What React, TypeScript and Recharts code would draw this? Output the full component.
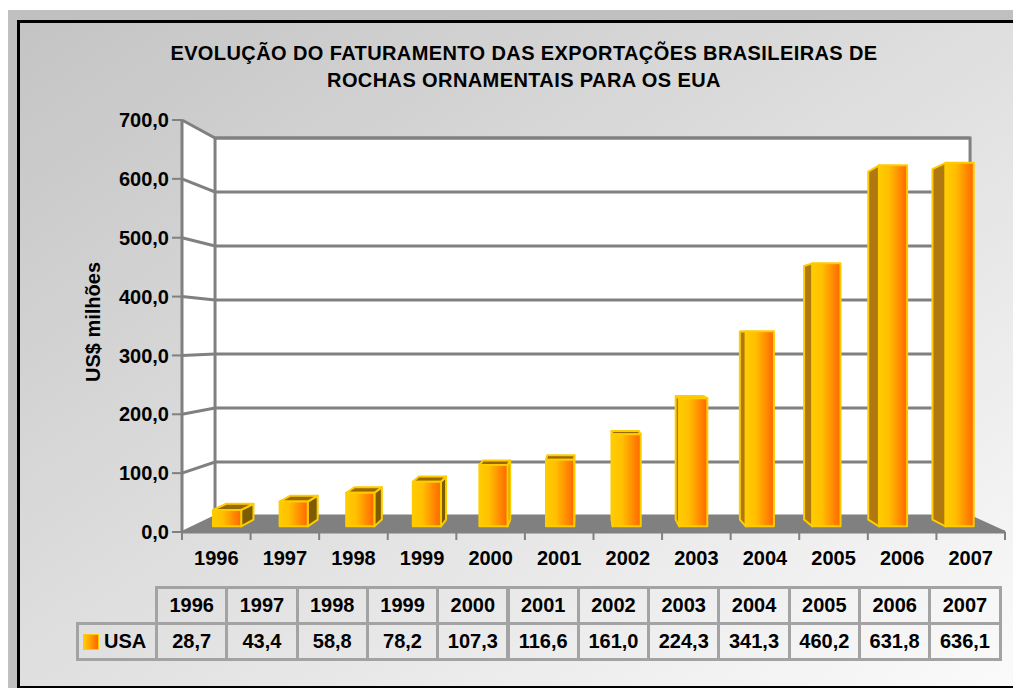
import React from 'react';
import { BarChart, Bar, XAxis, YAxis } from 'recharts';

const YEARS = ['1996', '1997', '1998', '1999', '2000', '2001', '2002', '2003', '2004', '2005', '2006', '2007'];
const USA = [28.7, 43.4, 58.8, 78.2, 107.3, 116.6, 161.0, 224.3, 341.3, 460.2, 631.8, 636.1];
const Y_TICKS = [0, 100, 200, 300, 400, 500, 600, 700];
const TITLE = ['EVOLUÇÃO DO FATURAMENTO DAS EXPORTAÇÕES BRASILEIRAS DE', 'ROCHAS ORNAMENTAIS PARA OS EUA'];
const Y_LABEL = 'US$ milhões';
const SERIES = 'USA';

const data = YEARS.map((year, i) => ({ year, usa: USA[i] }));

// geometry inside the grey frame (frame sits at page 8,10)
const W = 1013;
const H = 680;
const PL = 174;
const PT = 110;
const PW = 823;
const PH = 412;
const PR = PL + PW;
const PB = PT + PH;
// fake perspective: vanishing point + depth factors
const VX = PL + 0.486 * PW;
const VY = PT + 0.529 * PH;
const T_WALL = 0.0826;
const T_FRONT = 0.029;
const T_BACK = 0.064;
const FONT = '"Liberation Sans", Arial, Helvetica, sans-serif';
const GRID = '#808080';

const proj = (x: number, y: number, t: number) => [x + t * (VX - x), y + t * (VY - y)];
const pts = (arr: number[][]) => arr.map((p) => p.join(',')).join(' ');
const fmt = (v: number) => v.toFixed(1).replace('.', ',');
const yFront = (v: number) => PB - (v / Y_TICKS[Y_TICKS.length - 1]) * PH;

const Bar3D = (props: any) => {
    const { x, y, width, height } = props;
    if (height == null || width == null) return null;
    const xl = x, xr = x + width, yt = y, yb = y + height;
    const f = (px: number, py: number) => proj(px, py, T_FRONT);
    const b = (px: number, py: number) => proj(px, py, T_BACK);
    const cx = x + width / 2;
    const rightSide = cx < VX;
    const front = [f(xl, yt), f(xr, yt), f(xr, yb), f(xl, yb)];
    const side = rightSide
        ? [f(xr, yt), b(xr, yt), b(xr, yb), f(xr, yb)]
        : [f(xl, yt), b(xl, yt), b(xl, yb), f(xl, yb)];
    const top = [f(xl, yt), f(xr, yt), b(xr, yt), b(xl, yt)];
    return (
        <g>
            <polygon points={pts(side)} fill={rightSide ? '#7d5c00' : '#b07810'} stroke="#ffcc00" strokeWidth={2} strokeLinejoin="round" />
            {yt > VY && <polygon points={pts(top)} fill="#9a6800" stroke="#ffcc00" strokeWidth={2} strokeLinejoin="round" />}
            <polygon points={pts(front)} fill="url(#barFront)" stroke="#ffcc00" strokeWidth={2} strokeLinejoin="round" />
        </g>
    );
};

const XTick = (props: any) => {
    const { x, payload, index } = props;
    const band = PW / YEARS.length;
    return (
        <g>
            <line x1={x - band / 2} x2={x - band / 2} y1={PB} y2={PB + 8} stroke={GRID} strokeWidth={2} />
            {index === YEARS.length - 1 && (
                <line x1={x + band / 2} x2={x + band / 2} y1={PB} y2={PB + 8} stroke={GRID} strokeWidth={2} />
            )}
            <text x={x} y={PB + 33} textAnchor="middle" fontFamily={FONT} fontWeight="bold" fontSize={20} fill="#000">
                {payload.value}
            </text>
        </g>
    );
};

const Walls = () => {
    const tl = proj(PL, PT, T_WALL);
    const tr = proj(PR, PT, T_WALL);
    const br = proj(PR, PB, T_WALL);
    const bl = proj(PL, PB, T_WALL);
    return (
        <svg width={W} height={H} style={{ position: 'absolute', left: 0, top: 0 }}>
            <defs>
                <linearGradient id="barFront" x1="0" y1="0" x2="1" y2="0">
                    <stop offset="0%" stopColor="#ffcc00" />
                    <stop offset="35%" stopColor="#ffbf00" />
                    <stop offset="100%" stopColor="#ff6600" />
                </linearGradient>
            </defs>
            {TITLE.map((line, i) => (
                <text key={i} x={516} y={50 + i * 27} textAnchor="middle" fontFamily={FONT} fontWeight="bold" fontSize={20} letterSpacing={0.4} fill="#000">
                    {line}
                </text>
            ))}
            <text x={85} y={312} transform="rotate(-90 85 312)" textAnchor="middle" dominantBaseline="central" fontFamily={FONT} fontWeight="bold" fontSize={20} fill="#000">
                {Y_LABEL}
            </text>
            <polygon points={pts([[PL, PT], tl, bl, [PL, PB]])} fill="#fff" />
            <polygon points={pts([tl, tr, br, bl])} fill="#fff" stroke={GRID} strokeWidth={3} />
            {Y_TICKS.filter((v) => v > 0).map((v) => {
                const yf = yFront(v);
                return (
                    <polyline key={v} points={pts([[PL, yf], proj(PL, yf, T_WALL), proj(PR, yf, T_WALL)])} fill="none" stroke={GRID} strokeWidth={3} />
                );
            })}
            <polygon points={pts([[PL, PB], [PR, PB], br, bl])} fill={GRID} stroke={GRID} strokeWidth={2} />
        </svg>
    );
};

const CELL_W = 70.3;
const TABLE_L = 147;
const ROW1 = 576;
const ROW2 = 612;

const cellStyle = (left: number, top: number, width: number): React.CSSProperties => ({
    position: 'absolute',
    left,
    top,
    width,
    height: 39,
    boxSizing: 'border-box',
    border: '3px solid #a3a3a3',
    display: 'flex',
    alignItems: 'center',
    justifyContent: 'center',
    fontFamily: FONT,
    fontWeight: 'bold',
    fontSize: 20,
    color: '#000',
});

const App = () => {
    return (
        <div style={{ position: 'relative', top: 2, width: W, height: H, background: '#c0c0c0', overflow: 'hidden' }}>
            <div
                style={{
                    position: 'absolute',
                    left: 9,
                    top: 10,
                    width: 1020,
                    height: 669,
                    boxSizing: 'border-box',
                    border: '3px solid #000',
                    background: 'linear-gradient(to bottom right, #c4c4c4, #fbfbfb)',
                }}
            />
            <Walls />
            <div style={{ position: 'absolute', left: 0, top: 0 }}>
                <BarChart width={W} height={H} data={data} margin={{ top: PT, right: W - PR, bottom: H - PB - 40, left: PL - 80 }}>
                    <YAxis
                        width={80}
                        domain={[0, 700]}
                        ticks={Y_TICKS}
                        interval={0}
                        tickFormatter={fmt}
                        tickSize={10}
                        tickMargin={3}
                        tick={{ fill: '#000', fontSize: 20, fontWeight: 'bold', fontFamily: FONT }}
                        tickLine={{ stroke: GRID, strokeWidth: 2 }}
                        axisLine={{ stroke: GRID, strokeWidth: 3 }}
                    />
                    <XAxis
                        dataKey="year"
                        height={40}
                        interval={0}
                        tickLine={false}
                        axisLine={{ stroke: GRID, strokeWidth: 3 }}
                        tick={<XTick />}
                    />
                    <Bar dataKey="usa" name={SERIES} barSize={29} shape={<Bar3D />} isAnimationActive={false} />
                </BarChart>
            </div>
            {YEARS.map((yr, i) => (
                <div key={'h' + yr} style={cellStyle(TABLE_L + i * CELL_W, ROW1, CELL_W + 3)}>{yr}</div>
            ))}
            <div style={{ ...cellStyle(68, ROW2, 82), justifyContent: 'flex-start', paddingLeft: 4 }}>
                <span
                    style={{
                        display: 'inline-block',
                        width: 14,
                        height: 14,
                        marginRight: 5,
                        background: 'linear-gradient(to right, #ffcc00, #ff6600)',
                        border: '1px solid #ffcc00',
                    }}
                />
                {SERIES}
            </div>
            {USA.map((v, i) => (
                <div key={'v' + i} style={cellStyle(TABLE_L + i * CELL_W, ROW2, CELL_W + 3)}>{fmt(v)}</div>
            ))}
        </div>
    );
};

export default App;
